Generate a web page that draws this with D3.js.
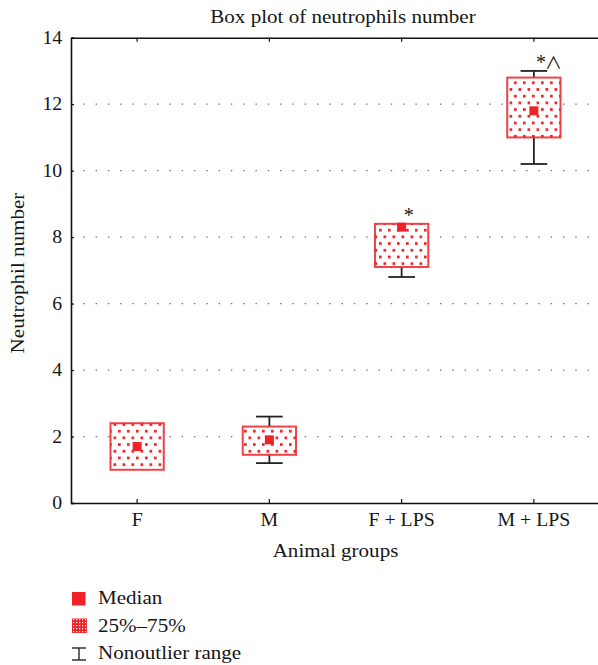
<!DOCTYPE html>
<html>
<head>
<meta charset="utf-8">
<script src="https://cdn.jsdelivr.net/npm/d3@7"></script>
<style>
  html, body { margin: 0; padding: 0; background: #fff; }
  svg { display: block; }
  text { font-family: "Liberation Serif", "Times New Roman", serif; fill: #161616; }
</style>
</head>
<body>
<svg id="chart" width="598" height="665"></svg>
<script>
// ---- data ----
const categories = ["F", "M", "F + LPS", "M + LPS"];
const mins    = [1.0, 1.2, 6.8, 10.2];
const q1s     = [1.0, 1.45, 7.1, 11.0];
const medians = [1.7, 1.9, 8.3, 11.8];
const q3s     = [2.4, 2.3, 8.4, 12.8];
const maxs    = [2.4, 2.6, 8.4, 13.0];
const annotations = [[], [], ["*"], ["*", "\u2227"]];
const yTicks = [0, 2, 4, 6, 8, 10, 12, 14];
const gridTicks = [2, 4, 6, 8, 10, 12];
const legendLabels = ["Median", "25%\u201375%", "Nonoutlier range"];
const titleText = "Box plot of neutrophils number";
const xTitle = "Animal groups";
const yTitle = "Neutrophil number";

const RED = "#ee2227";
const SX = 1.17;   // horizontal stretch to mimic the wider original typeface
const svg = d3.select("#chart");

const margin = { left: 71, top: 37.7, right: 600, bottom: 503 };
const x = d3.scaleBand().domain(categories).range([margin.left, margin.right]).paddingInner(0).paddingOuter(0);
const y = d3.scaleLinear().domain([0, 14]).range([margin.bottom, margin.top]);
const cx = d => x(d) + x.bandwidth() / 2;
const boxW = x.bandwidth() * 0.403;
const capW = boxW * 0.5;

function label(px, py, txt, opts = {}) {
  const gg = svg.append("g").attr("transform", `translate(${px},${py}) rotate(${opts.rotate || 0})`);
  gg.append("text").attr("transform", `scale(${opts.sx || SX},1)`)
    .attr("text-anchor", opts.anchor || "middle")
    .style("font-size", (opts.size || 18) + "px").text(txt);
  return gg;
}

// patterns
const defs = svg.append("defs");
const pat = defs.append("pattern").attr("id", "dots")
  .attr("patternUnits", "userSpaceOnUse").attr("width", 9).attr("height", 13.4)
  .attr("x", 1).attr("y", 1);
pat.append("rect").attr("width", 9).attr("height", 13.4).attr("fill", "#fff");
pat.append("rect").attr("x", 0).attr("y", 0).attr("width", 2.7).attr("height", 2.7).attr("fill", RED);
pat.append("rect").attr("x", 4.5).attr("y", 6.7).attr("width", 2.7).attr("height", 2.7).attr("fill", RED);

const lpat = defs.append("pattern").attr("id", "ldots")
  .attr("patternUnits", "userSpaceOnUse").attr("width", 3).attr("height", 3);
lpat.append("rect").attr("width", 3).attr("height", 3).attr("fill", RED);
lpat.append("rect").attr("x", 1).attr("y", 1).attr("width", 1.2).attr("height", 1.2).attr("fill", "#fff");

// grid lines
svg.append("g").selectAll("line").data(gridTicks).join("line")
  .attr("x1", margin.left).attr("x2", margin.right)
  .attr("y1", d => y(d)).attr("y2", d => y(d))
  .attr("stroke", "#6f6f6f").attr("stroke-width", 1.3)
  .attr("stroke-dasharray", "1.4,10.9");

// axes
const yAxis = d3.axisLeft(y).tickValues(yTicks).tickSize(-3).tickPadding(8).tickFormat(d3.format("d"));
const gy = svg.append("g").attr("transform", `translate(${margin.left},0)`).call(yAxis);
gy.select(".domain").attr("stroke", "#111").attr("stroke-width", 1.6);
gy.selectAll(".tick line").attr("stroke", "#111").attr("stroke-width", 1.2);
gy.selectAll(".tick text").style("font-size", "18px").style("font-family", "Liberation Serif")
  .attr("fill", "#161616").attr("transform", "scale(1.1,1)");

const xAxis = d3.axisBottom(x).tickSize(-4).tickPadding(10).tickSizeOuter(0);
const gx = svg.append("g").attr("transform", `translate(0,${margin.bottom})`).call(xAxis);
gx.select(".domain").attr("stroke", "#111").attr("stroke-width", 1.6);
gx.selectAll(".tick line").attr("stroke", "#111").attr("stroke-width", 1.2);
gx.selectAll(".tick text").style("font-size", "18px").style("font-family", "Liberation Serif")
  .attr("fill", "#161616").attr("transform", "scale(1.1,1)");

const xTop = d3.axisTop(x).tickSize(-4).tickFormat("").tickSizeOuter(0);
const gt = svg.append("g").attr("transform", `translate(0,${margin.top})`).call(xTop);
gt.select(".domain").attr("stroke", "#111").attr("stroke-width", 1.6);
gt.selectAll(".tick line").attr("stroke", "#111").attr("stroke-width", 1.2);

// boxes
const groups = categories.map((c, i) => ({ c, min: mins[i], q1: q1s[i], med: medians[i], q3: q3s[i], max: maxs[i], ann: annotations[i] }));
const g = svg.append("g").selectAll("g").data(groups).join("g");

g.append("line").attr("x1", d => cx(d.c)).attr("x2", d => cx(d.c))
  .attr("y1", d => y(d.max)).attr("y2", d => y(d.q3))
  .attr("stroke", "#222").attr("stroke-width", 1.8);
g.append("line").attr("x1", d => cx(d.c)).attr("x2", d => cx(d.c))
  .attr("y1", d => y(d.q1)).attr("y2", d => y(d.min))
  .attr("stroke", "#222").attr("stroke-width", 1.8);
g.filter(d => d.max > d.q3).append("line")
  .attr("x1", d => cx(d.c) - capW / 2).attr("x2", d => cx(d.c) + capW / 2)
  .attr("y1", d => y(d.max)).attr("y2", d => y(d.max))
  .attr("stroke", "#222").attr("stroke-width", 1.8);
g.filter(d => d.min < d.q1).append("line")
  .attr("x1", d => cx(d.c) - capW / 2).attr("x2", d => cx(d.c) + capW / 2)
  .attr("y1", d => y(d.min)).attr("y2", d => y(d.min))
  .attr("stroke", "#222").attr("stroke-width", 1.8);

g.append("rect")
  .attr("x", d => cx(d.c) - boxW / 2).attr("width", boxW)
  .attr("y", d => y(d.q3)).attr("height", d => y(d.q1) - y(d.q3))
  .attr("fill", "url(#dots)").attr("stroke", RED).attr("stroke-opacity", 0.85).attr("stroke-width", 2);

g.append("rect")
  .attr("x", d => cx(d.c) - 4.5).attr("y", d => y(d.med) - 4.5)
  .attr("width", 9).attr("height", 9).attr("fill", RED);

// significance marks
const ann = g.append("text")
  .attr("x", d => cx(d.c) + 2).attr("y", d => y(d.max) - 2);
ann.selectAll("tspan").data(d => d.ann).join("tspan")
  .style("font-size", (d, i) => i === 0 ? "20px" : "17px")
  .style("font-family", (d, i) => i === 0 ? "Liberation Serif" : "'Noto Sans CJK JP', 'DejaVu Sans'")
  .attr("dx", (d, i) => i === 0 ? 0 : -1)
  .attr("dy", (d, i) => i === 0 ? 0 : 0)
  .text(d => d);

// titles
label(343, 23, titleText);
label((margin.left + margin.right) / 2, 557, xTitle);
label(24, 273, yTitle, { rotate: -90 });

// legend
const leg = svg.append("g");
leg.append("rect").attr("x", 72).attr("y", 592).attr("width", 13.5).attr("height", 13.5).attr("fill", RED);
leg.append("rect").attr("x", 72).attr("y", 618.5).attr("width", 15).attr("height", 14.5).attr("fill", "url(#ldots)");
leg.append("line").attr("x1", 79).attr("x2", 79).attr("y1", 648).attr("y2", 660).attr("stroke", "#333").attr("stroke-width", 1.5);
leg.append("line").attr("x1", 72).attr("x2", 86).attr("y1", 648).attr("y2", 648).attr("stroke", "#333").attr("stroke-width", 1.5);
leg.append("line").attr("x1", 72).attr("x2", 86).attr("y1", 660).attr("y2", 660).attr("stroke", "#333").attr("stroke-width", 1.5);
legendLabels.forEach((t, i) => label(98, 604 + i * 27.5, t, { anchor: "start" }));
</script>
</body>
</html>
